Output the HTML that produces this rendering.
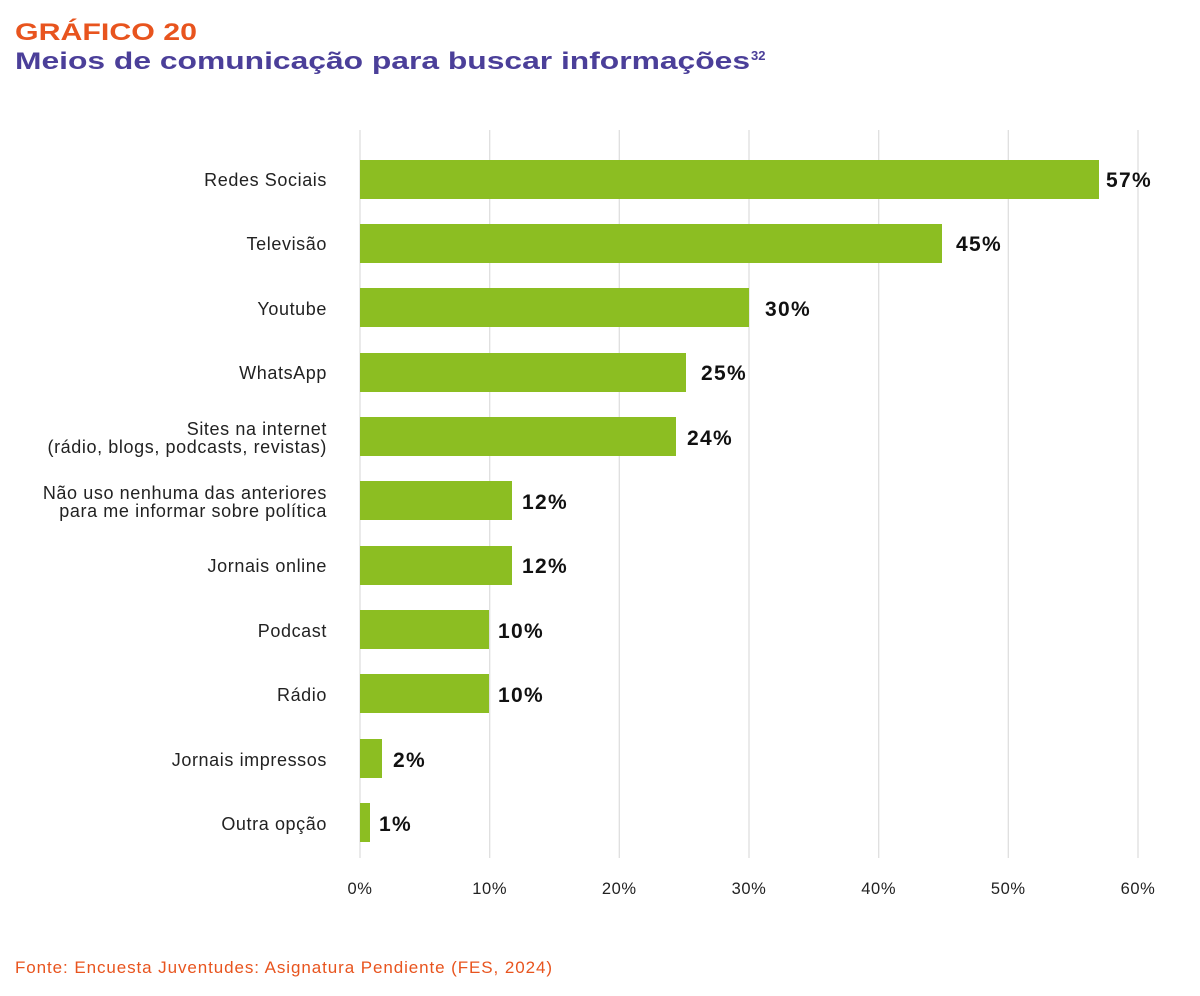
<!DOCTYPE html>
<html><head><meta charset="utf-8"><style>
body{margin:0;background:#fff;width:1200px;height:996px;overflow:hidden}
svg{display:block}
</style></head><body>
<svg width="1200" height="996" xmlns="http://www.w3.org/2000/svg" font-family="Liberation Sans, sans-serif">
<text x="15" y="40" font-size="24" font-weight="bold" fill="#e8541e" textLength="182" lengthAdjust="spacingAndGlyphs">GRÁFICO 20</text>
<text x="15" y="69" font-size="24" font-weight="bold" fill="#4b3f99" textLength="735" lengthAdjust="spacingAndGlyphs">Meios de comunicação para buscar informações</text>
<text x="751" y="60" font-size="13" font-weight="bold" fill="#4b3f99">32</text>
<g stroke="#dcdcdc" stroke-width="1.2">
<line x1="360" y1="130" x2="360" y2="858"/><line x1="489.7" y1="130" x2="489.7" y2="858"/>
<line x1="619.3" y1="130" x2="619.3" y2="858"/><line x1="749" y1="130" x2="749" y2="858"/>
<line x1="878.7" y1="130" x2="878.7" y2="858"/><line x1="1008.3" y1="130" x2="1008.3" y2="858"/>
<line x1="1138" y1="130" x2="1138" y2="858"/>
</g>
<g font-size="16.5" fill="#222" text-anchor="middle" letter-spacing="0.6">
<text x="360" y="894">0%</text><text x="489.7" y="894">10%</text><text x="619.3" y="894">20%</text>
<text x="749" y="894">30%</text><text x="878.7" y="894">40%</text><text x="1008.3" y="894">50%</text><text x="1138" y="894">60%</text>
</g>
<g fill="#8cbe22">
<rect x="360" y="160" width="739" height="39"/>
<rect x="360" y="224" width="582" height="39"/>
<rect x="360" y="288" width="389" height="39"/>
<rect x="360" y="353" width="326" height="39"/>
<rect x="360" y="417" width="316" height="39"/>
<rect x="360" y="481" width="152" height="39"/>
<rect x="360" y="546" width="152" height="39"/>
<rect x="360" y="610" width="129" height="39"/>
<rect x="360" y="674" width="129" height="39"/>
<rect x="360" y="739" width="22" height="39"/>
<rect x="360" y="803" width="10" height="39"/>
</g>
<g font-size="21" font-weight="bold" fill="#111" letter-spacing="1.3">
<text x="1106" y="187">57%</text><text x="956" y="251">45%</text><text x="765" y="316">30%</text>
<text x="701" y="380">25%</text><text x="687" y="445">24%</text><text x="522" y="509">12%</text>
<text x="522" y="573">12%</text><text x="498" y="638">10%</text><text x="498" y="702">10%</text>
<text x="393" y="767">2%</text><text x="379" y="831">1%</text>
</g>
<g font-size="18" fill="#222" text-anchor="end" letter-spacing="0.6">
<text x="327" y="186">Redes Sociais</text>
<text x="327" y="250">Televisão</text>
<text x="327" y="315">Youtube</text>
<text x="327" y="379">WhatsApp</text>
<text x="327" y="435">Sites na internet</text>
<text x="327" y="453">(rádio, blogs, podcasts, revistas)</text>
<text x="327" y="499">Não uso nenhuma das anteriores</text>
<text x="327" y="517">para me informar sobre política</text>
<text x="327" y="572">Jornais online</text>
<text x="327" y="637">Podcast</text>
<text x="327" y="701">Rádio</text>
<text x="327" y="766">Jornais impressos</text>
<text x="327" y="830">Outra opção</text>
</g>
<text x="15" y="973" font-size="17" fill="#e8541e" textLength="537" lengthAdjust="spacing">Fonte: Encuesta Juventudes: Asignatura Pendiente (FES, 2024)</text>
</svg>
</body></html>
